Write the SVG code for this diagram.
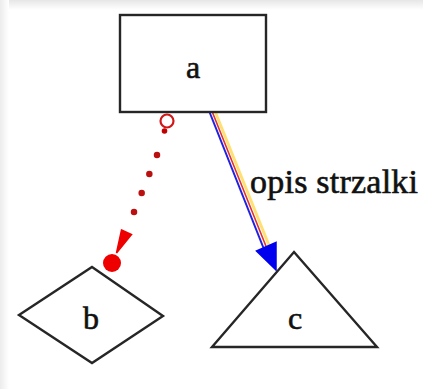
<svg xmlns="http://www.w3.org/2000/svg" width="423" height="389" viewBox="0 0 423 389">
<defs>
<linearGradient id="topg" x1="0" y1="0" x2="0" y2="1"><stop offset="0" stop-color="#e6e6e6"/><stop offset="1" stop-color="#ffffff"/></linearGradient>
<linearGradient id="leftg" x1="0" y1="0" x2="1" y2="0"><stop offset="0" stop-color="#ececec"/><stop offset="1" stop-color="#ffffff"/></linearGradient>
</defs>
<style>
.node{fill:#ffffff;stroke:#262626;stroke-width:2.4;stroke-linejoin:miter}
.lbl{font-family:"Liberation Serif","Times New Roman",serif;font-size:32px;fill:#111111;stroke:#111111;stroke-width:0.6;text-anchor:middle}
.elbl{font-family:"Liberation Serif","Times New Roman",serif;font-size:34px;fill:#111111;stroke:#111111;stroke-width:0.6}
</style>
<rect x="0" y="0" width="423" height="389" fill="#ffffff"/>
<rect x="0" y="0" width="423" height="10" fill="url(#topg)"/>
<rect x="0" y="0" width="9" height="389" fill="url(#leftg)"/>
<g id="connectors">
<g id="edge-a-b">
<circle cx="167" cy="121" r="6.5" fill="none" stroke="#d01818" stroke-width="2.2"/>
<circle cx="164.5" cy="131" r="2.8" fill="#c00000"/>
<line x1="157" y1="155" x2="130" y2="222" stroke="#bb1010" stroke-width="6.5" stroke-linecap="round" stroke-dasharray="0 20.5"/>
<polygon points="121.5,230 131.5,234.5 116.5,253" fill="#ee0000" stroke="#ee0000" stroke-width="1.5"/>
<circle cx="112" cy="263" r="9" fill="#ee0000"/>
</g>
<g id="edge-a-c">
<line x1="209.5" y1="112" x2="263.5" y2="248" stroke="#2020e0" stroke-width="2"/>
<line x1="212.3" y1="112" x2="266.3" y2="247" stroke="#e03030" stroke-width="1.6"/>
<line x1="215.3" y1="112" x2="269.3" y2="246" stroke="#ffe070" stroke-width="2.8"/>
<polygon points="256.5,251 276,242.5 276,270" fill="#0000ee" stroke="#0000ee" stroke-width="1.5"/>
<text class="elbl" x="250" y="193" textLength="168" lengthAdjust="spacing">opis strzalki</text>
</g>
</g>
<g id="node-a">
<rect class="node" x="120" y="15" width="146" height="97"/>
<text class="lbl" x="193" y="78">a</text>
</g>
<g id="node-b">
<polygon class="node" points="92,267 163,316 92,363 19,315"/>
<text class="lbl" x="91" y="329">b</text>
</g>
<g id="node-c">
<polygon class="node" points="294,252 377,347 212,347"/>
<text class="lbl" x="295" y="329">c</text>
</g>
</svg>
